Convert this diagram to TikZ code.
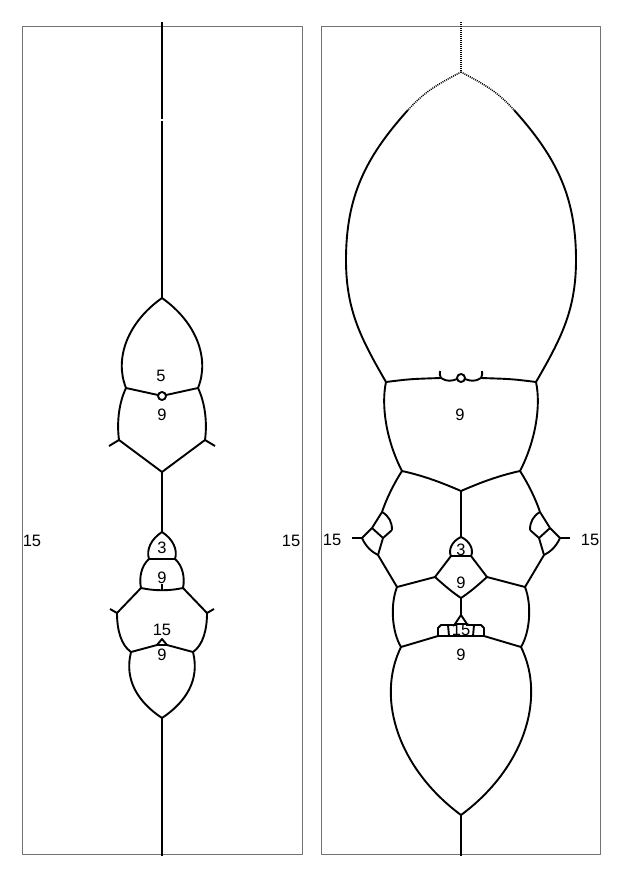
\documentclass[tikz,border=0pt]{standalone}
\usepackage{fontspec}
\setmainfont{Liberation Sans}
\begin{document}
\begin{tikzpicture}[x=1pt,y=-1pt,line join=round,
	wall/.style={line width=1.9pt,black},
	dots/.style={line width=1.5pt,black,dash pattern=on 1pt off 1pt},
	frame/.style={line width=0.9pt,draw=black!55},
	lbl/.style={font=\fontsize{16.5}{16.5}\selectfont,inner sep=0pt}]
	\useasboundingbox (0,0) rectangle (623,881);
	\draw[frame] (22,26) rectangle (302,854);
	\draw[frame] (321,26) rectangle (600,854);

	% left panel
	\coordinate (A0) at (162,22);
	\coordinate (Ag1) at (162,119.3);
	\coordinate (Ag2) at (162,120.8);
	\coordinate (A1) at (162,298);
	\coordinate (A2) at (126,388);
	\coordinate (A3) at (198,388);
	\coordinate (Ak1) at (158,395);
	\coordinate (Ak2) at (166,395);
	\coordinate (A4) at (119,440);
	\coordinate (A5) at (205,440);
	\coordinate (At1) at (109,446);
	\coordinate (At2) at (215,446);
	\coordinate (A6) at (162,472);
	\coordinate (A7) at (162,532);
	\coordinate (A8) at (149,559);
	\coordinate (A9) at (175,559);
	\coordinate (A10) at (141,588);
	\coordinate (A11) at (183,588);
	\coordinate (Am1) at (162,590);
	\coordinate (Am2) at (162,584);
	\coordinate (A12) at (117,613);
	\coordinate (A13) at (207,613);
	\coordinate (At3) at (110,609);
	\coordinate (At4) at (214,609);
	\coordinate (A14) at (131,652);
	\coordinate (A15) at (193,652);
	\coordinate (Ar1) at (157,645);
	\coordinate (Ar2) at (162,639);
	\coordinate (Ar3) at (167,645);
	\coordinate (A16) at (162,718);
	\coordinate (A17) at (162,856);

	\draw[wall] (A0) -- (Ag1);
	\draw[wall] (Ag2) -- (A1);
	\draw[wall] (A1) .. controls (128,322) and (114,358) .. (A2);
	\draw[wall] (A1) .. controls (196,322) and (210,358) .. (A3);
	\draw[wall] (A2) -- (Ak1);
	\draw[wall] (Ak2) -- (A3);
	\draw[wall] (162,396) circle (4);
	\draw[wall] (A2) .. controls (118,405) and (117,425) .. (A4);
	\draw[wall] (A3) .. controls (206,405) and (207,425) .. (A5);
	\draw[wall] (A4) -- (At1);
	\draw[wall] (A5) -- (At2);
	\draw[wall] (A4) -- (A6);
	\draw[wall] (A5) -- (A6);
	\draw[wall] (A6) -- (A7);
	\draw[wall] (A7) .. controls (151,539) and (146,550) .. (A8);
	\draw[wall] (A7) .. controls (173,539) and (178,550) .. (A9);
	\draw[wall] (A8) -- (A9);
	\draw[wall] (A8) .. controls (141,566) and (139,578) .. (A10);
	\draw[wall] (A9) .. controls (183,566) and (185,578) .. (A11);
	\draw[wall] (A10) .. controls (155,591) and (169,591) .. (A11);
	\draw[wall] (Am1) -- (Am2);
	\draw[wall] (A10) -- (A12);
	\draw[wall] (A11) -- (A13);
	\draw[wall] (A12) -- (At3);
	\draw[wall] (A13) -- (At4);
	\draw[wall] (A12) .. controls (117,630) and (121,645) .. (A14);
	\draw[wall] (A13) .. controls (207,630) and (203,645) .. (A15);
	\draw[wall] (A14) -- (Ar1);
	\draw[wall] (Ar3) -- (A15);
	\draw[wall] (Ar1) -- (Ar2) -- (Ar3) -- cycle;
	\draw[wall] (A14) .. controls (124,680) and (138,702) .. (A16);
	\draw[wall] (A15) .. controls (200,680) and (186,702) .. (A16);
	\draw[wall] (A16) -- (A17);

	\node (L5) at (161,376) [lbl] {5};
	\node (L9a) at (162,415) [lbl] {9};
	\node (L3) at (162,548) [lbl] {3};
	\node (L9b) at (162,578) [lbl] {9};
	\node (L15) at (162,630) [lbl] {15};
	\node (L9c) at (162,655) [lbl] {9};
	\node (L15l) at (32,541) [lbl] {15};
	\node (L15r) at (291,541) [lbl] {15};

	% right panel
	\coordinate (B0) at (461,22);
	\coordinate (B1) at (461,72);
	\coordinate (Bd1) at (408,110);
	\coordinate (Bd2) at (514,110);
	\coordinate (Bw1) at (346,260);
	\coordinate (Bw2) at (576,260);
	\coordinate (B2) at (386,382);
	\coordinate (B3) at (536,382);
	\coordinate (Bh1) at (441,378);
	\coordinate (Bh2) at (481,378);
	\coordinate (Bt1) at (440,371);
	\coordinate (Bt2) at (482,371);
	\coordinate (Bc1) at (457,379);
	\coordinate (Bc2) at (465,379);
	\coordinate (B4) at (402,471);
	\coordinate (B5) at (520,471);
	\coordinate (B6) at (461,491);
	\coordinate (B7) at (461,537);
	\coordinate (B8) at (451,556);
	\coordinate (B9) at (471,556);
	\coordinate (B10) at (435,577);
	\coordinate (B11) at (487,577);
	\coordinate (B12) at (461,598);
	\coordinate (B13) at (397,587);
	\coordinate (B14) at (525,587);
	\coordinate (B15) at (461,615);
	\coordinate (B16) at (401,647);
	\coordinate (B17) at (521,647);
	\coordinate (B18) at (461,815);
	\coordinate (B19) at (461,856);

	\coordinate (C1) at (382,512);
	\coordinate (C2) at (372,528);
	\coordinate (C3) at (392,530);
	\coordinate (C4) at (383,538);
	\coordinate (C5) at (362,538);
	\coordinate (C6) at (378,555);
	\coordinate (Ct) at (352,538);
	\coordinate (D1) at (540,512);
	\coordinate (D2) at (550,528);
	\coordinate (D3) at (530,530);
	\coordinate (D4) at (539,538);
	\coordinate (D5) at (560,538);
	\coordinate (D6) at (544,555);
	\coordinate (Dt) at (570,538);

	\coordinate (E1) at (438,636);
	\coordinate (E2) at (455,624);
	\coordinate (E3) at (467,624);
	\coordinate (E4) at (484,636);

	\draw[dots] (B0) -- (B1);
	\draw[dots] (B1) to[out=208,in=48] (Bd1);
	\draw[dots] (B1) to[out=332,in=132] (Bd2);
	\draw[wall] (Bd1) to[out=228,in=90] (Bw1) to[out=270,in=120] (B2);
	\draw[wall] (Bd2) to[out=312,in=90] (Bw2) to[out=270,in=60] (B3);
	\draw[wall] (B2) .. controls (410,379) .. (Bh1);
	\draw[wall] (B3) .. controls (512,379) .. (Bh2);
	\draw[wall] (Bh1) to[bend left=20] (Bt1);
	\draw[wall] (Bh2) to[bend right=20] (Bt2);
	\draw[wall] (Bh1) .. controls (447,382) and (452,381) .. (Bc1);
	\draw[wall] (Bh2) .. controls (475,382) and (470,381) .. (Bc2);
	\draw[wall] (461,378) circle (4);
	\draw[wall] (B2) .. controls (381,405) and (386,440) .. (B4);
	\draw[wall] (B3) .. controls (541,405) and (536,440) .. (B5);
	\draw[wall] (B4) .. controls (425,476) and (445,484) .. (B6);
	\draw[wall] (B5) .. controls (497,476) and (477,484) .. (B6);
	\draw[wall] (B6) -- (B7);
	\draw[wall] (B7) .. controls (452,541) and (448,550) .. (B8);
	\draw[wall] (B7) .. controls (470,541) and (474,550) .. (B9);
	\draw[wall] (B8) -- (B9);
	\draw[wall] (B8) -- (B10);
	\draw[wall] (B9) -- (B11);
	\draw[wall] (B10) .. controls (445,586) and (452,592) .. (B12);
	\draw[wall] (B11) .. controls (477,586) and (470,592) .. (B12);
	\draw[wall] (B10) -- (B13);
	\draw[wall] (B11) -- (B14);
	\draw[wall] (B12) -- (B15);

	\draw[wall] (B4) .. controls (393,485) and (386,500) .. (C1);
	\draw[wall] (C1) -- (C2);
	\draw[wall] (C1) .. controls (389,516) and (392,522) .. (C3);
	\draw[wall] (C3) -- (C4);
	\draw[wall] (C2) -- (C4);
	\draw[wall] (C2) -- (C5);
	\draw[wall] (C5) -- (Ct);
	\draw[wall] (C5) .. controls (366,547) and (372,552) .. (C6);
	\draw[wall] (C4) -- (C6);
	\draw[wall] (C6) -- (B13);
	\draw[wall] (B5) .. controls (529,485) and (536,500) .. (D1);
	\draw[wall] (D1) -- (D2);
	\draw[wall] (D1) .. controls (533,516) and (530,522) .. (D3);
	\draw[wall] (D3) -- (D4);
	\draw[wall] (D2) -- (D4);
	\draw[wall] (D2) -- (D5);
	\draw[wall] (D5) -- (Dt);
	\draw[wall] (D5) .. controls (556,547) and (550,552) .. (D6);
	\draw[wall] (D4) -- (D6);
	\draw[wall] (D6) -- (B14);

	\draw[wall] (B13) .. controls (390,605) and (392,632) .. (B16);
	\draw[wall] (B14) .. controls (532,605) and (530,632) .. (B17);
	\draw[wall] (B16) -- (E1);
	\draw[wall] (E4) -- (B17);
	\draw[wall] (B15) -- (E2) -- (E3) -- cycle;
	\draw[wall] (E1) -- (438,628) -- (441,625) -- (456,625);
	\draw[wall] (E4) -- (484,628) -- (481,625) -- (466,625);
	\draw[wall] (E1) -- (E4);
	\draw[wall] (448,625) -- (449,636);
	\draw[wall] (474,625) -- (473,636);
	\draw[wall] (B16) .. controls (375,700) and (400,770) .. (B18);
	\draw[wall] (B17) .. controls (547,700) and (522,770) .. (B18);
	\draw[wall] (B18) -- (B19);

	\node (R9a) at (460,415) [lbl] {9};
	\node (R3) at (461,550) [lbl] {3};
	\node (R9b) at (461,583) [lbl] {9};
	\node (R15) at (461,630) [lbl] {15};
	\node (R9c) at (461,655) [lbl] {9};
	\node (R15l) at (332,540) [lbl] {15};
	\node (R15r) at (590,540) [lbl] {15};
\end{tikzpicture}
\end{document}
